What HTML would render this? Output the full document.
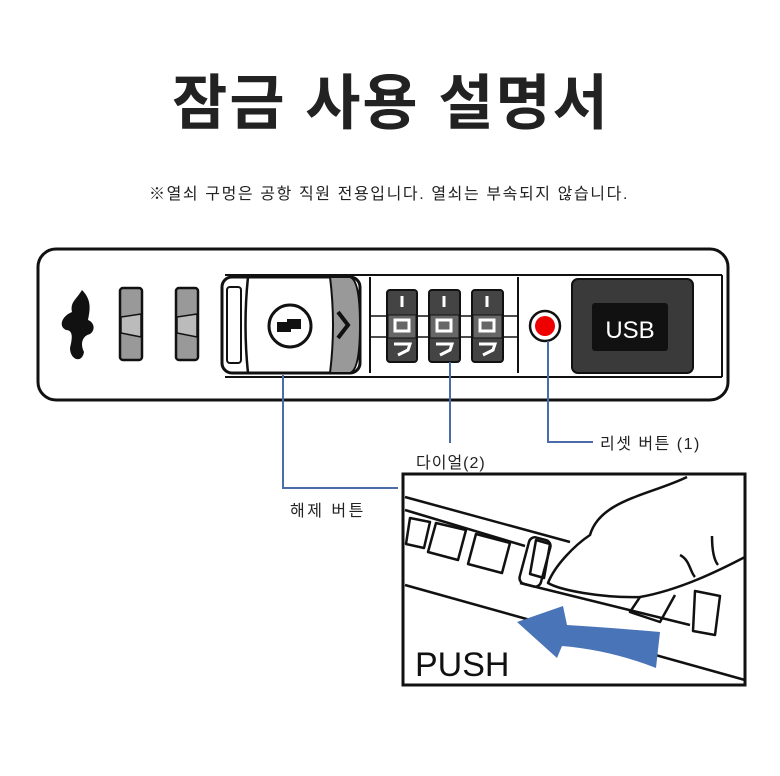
<!DOCTYPE html>
<html><head><meta charset="utf-8"><style>
html,body{margin:0;padding:0;background:#fff;}
svg{display:block}
text{font-family:"Liberation Sans","Noto Sans CJK KR",sans-serif;}
</style></head><body>
<svg width="780" height="776" viewBox="0 0 780 776" xmlns="http://www.w3.org/2000/svg">
<rect width="780" height="776" fill="#fff"/>
<text x="391" y="124" font-size="60" font-weight="bold" fill="#222" text-anchor="middle" letter-spacing="2" font-family="Noto Sans CJK KR, sans-serif">잠금 사용 설명서</text>
<text x="389" y="199" font-size="16" fill="#222" text-anchor="middle" letter-spacing="1.6">※열쇠 구멍은 공항 직원 전용입니다. 열쇠는  부속되지 않습니다.</text>

<rect x="38" y="249" width="690" height="151" rx="18" fill="#fff" stroke="#111" stroke-width="3"/>
<line x1="225" y1="275" x2="722" y2="275" stroke="#111" stroke-width="2"/>
<line x1="225" y1="377" x2="722" y2="377" stroke="#111" stroke-width="2"/>
<line x1="722" y1="275" x2="722" y2="377" stroke="#111" stroke-width="2"/>
<path d="M82,290 C76,300 70,302 72,312 C62,316 58,326 66,330 C74,330 72,340 70,348 C70,360 82,364 84,352 C80,344 82,336 90,334 C96,330 94,322 88,320 C90,310 92,300 82,290 Z" fill="#111"/>
<g stroke="#111" stroke-width="2.5" fill="#999">
<rect x="120" y="288" width="22" height="72" rx="3"/>
<rect x="176" y="288" width="22" height="72" rx="3"/>
</g>
<path d="M121,317 L141,314 L141,337 L121,333Z M177,317 L197,314 L197,337 L177,333Z" fill="#bbb" stroke="#111" stroke-width="1.5"/>
<rect x="222" y="277" width="138" height="96" rx="10" fill="#fff" stroke="#111" stroke-width="3"/>
<path d="M330,277 L350,277 Q360,280 360,325 Q360,370 350,373 L330,373 Q336,325 330,277Z" fill="#999" stroke="#111" stroke-width="2"/>
<path d="M338,312 L348,325 L338,338" fill="none" stroke="#111" stroke-width="4"/>
<path d="M248,277 Q243,325 248,373" fill="none" stroke="#111" stroke-width="2.5"/>
<rect x="227" y="287" width="14" height="76" rx="3" fill="#fff" stroke="#111" stroke-width="2"/>
<circle cx="290" cy="326" r="21" fill="#fff" stroke="#111" stroke-width="3"/>
<path d="M277,322 h10 v-3 h14 v10 h-10 v3 h-14z" fill="#111"/>
<line x1="370" y1="277" x2="370" y2="373" stroke="#111" stroke-width="2"/>
<line x1="518" y1="277" x2="518" y2="373" stroke="#111" stroke-width="2"/>
<line x1="370" y1="316" x2="518" y2="316" stroke="#111" stroke-width="1.5"/>
<line x1="370" y1="337" x2="518" y2="337" stroke="#111" stroke-width="1.5"/>
<g>
<rect x="387" y="290" width="30" height="72" rx="3" fill="#444" stroke="#111" stroke-width="2"/>
<rect x="429" y="290" width="31" height="72" rx="3" fill="#444" stroke="#111" stroke-width="2"/>
<rect x="472" y="290" width="31" height="72" rx="3" fill="#444" stroke="#111" stroke-width="2"/>
</g>
<g fill="#666" stroke="#111" stroke-width="1">
<rect x="388" y="315" width="28" height="23"/><rect x="430" y="315" width="29" height="23"/><rect x="473" y="315" width="29" height="23"/>
</g>
<g stroke="#fff" stroke-width="3" fill="none">
<line x1="402" y1="296" x2="402" y2="307"/><line x1="444" y1="296" x2="444" y2="307"/><line x1="487" y1="296" x2="487" y2="307"/>
<rect x="395" y="320" width="14" height="11"/><rect x="437" y="320" width="14" height="11"/><rect x="480" y="320" width="14" height="11"/>
<path d="M394,344 h16 l-2,6 l-10,5"/><path d="M436,344 h16 l-2,6 l-10,5"/><path d="M479,344 h16 l-2,6 l-10,5"/>
</g>
<circle cx="545" cy="326" r="15" fill="#fff" stroke="#111" stroke-width="2.5"/>
<circle cx="545" cy="326" r="10" fill="#e00"/>
<rect x="572" y="279" width="121" height="94" rx="6" fill="#3a3a3a" stroke="#111" stroke-width="2"/>
<rect x="592" y="303" width="76" height="48" rx="3" fill="#111"/>
<text x="630" y="338" font-size="24" fill="#fff" text-anchor="middle">USB</text>

<g stroke="#4a6ca8" stroke-width="2" fill="none">
<polyline points="283,375 283,488 398,488"/>
<line x1="450" y1="362" x2="450" y2="443"/>
<polyline points="548,341 548,442 593,442"/>
</g>
<text x="600" y="449" font-size="16" fill="#222" letter-spacing="1.5">리셋 버튼 (1)</text>
<text x="416" y="468" font-size="16" fill="#222" letter-spacing="1">다이얼(2)</text>
<text x="290" y="516" font-size="16" fill="#222" letter-spacing="2.5">해제 버튼</text>

<rect x="403" y="474" width="342" height="211" fill="#fff" stroke="#111" stroke-width="3"/>
<g stroke="#111" stroke-width="2.5" fill="none" stroke-linejoin="round">
<line x1="405" y1="497" x2="570" y2="542"/>
<line x1="405" y1="510" x2="525" y2="546"/>
<line x1="405" y1="585" x2="745" y2="680"/>
<line x1="520" y1="583" x2="690" y2="625"/>
<path d="M410,518 l20,4 l-6,26 l-18,-4z"/>
<path d="M436,523 l30,7 l-8,30 l-30,-8z"/>
<path d="M476,534 l34,9 l-8,30 l-34,-9z"/>
<path d="M536,540 l14,4 l-6,34 l-14,-4z"/>
<rect x="524" y="538" width="22" height="48" rx="6" transform="rotate(15 535 562)"/>
<path d="M687,477 C650,495 600,500 590,535 C575,545 555,565 548,583 C560,590 600,598 640,597 C680,590 720,570 745,557"/>
<path d="M640,597 L630,612 L660,622 L675,595"/>
<path d="M680,555 C690,560 690,572 695,577"/>
<path d="M712,536 C712,550 714,560 718,565"/>
<path d="M695,591 L720,596 L715,635 L693,631z"/>
</g>
<path d="M517,622 L563,606 L567,625 Q615,628 660,632 L656,668 Q610,650 562,646 L557,658 Z" fill="#4a74b8"/>
<text x="415" y="676" font-size="34" fill="#111">PUSH</text>
</svg>
</body></html>
